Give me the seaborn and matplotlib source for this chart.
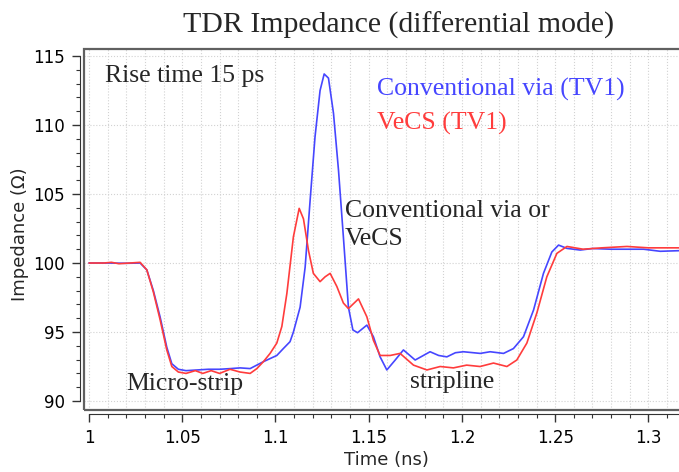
import numpy as np
import pandas as pd
import seaborn as sns
import matplotlib.pyplot as plt
from matplotlib.patches import Rectangle
from matplotlib.ticker import MultipleLocator

# values
conv_t = [1.000, 1.010, 1.020, 1.0274, 1.031, 1.0345, 1.0381, 1.0417, 1.0444, 1.0479,
          1.052, 1.058, 1.064, 1.070, 1.076, 1.081, 1.0864, 1.0935, 1.1007, 1.1042,
          1.1078, 1.1096, 1.1132, 1.1159, 1.1186, 1.1212, 1.1239, 1.1261, 1.1284,
          1.1311, 1.1338, 1.1364, 1.1391, 1.1415, 1.1440, 1.149, 1.1525, 1.1561, 1.1597,
          1.1642, 1.1686, 1.1749, 1.1829, 1.1875, 1.1919, 1.1965, 1.2008, 1.2098, 1.2151,
          1.2223, 1.2276, 1.233, 1.2384, 1.2437, 1.2482, 1.2518, 1.2563, 1.2634, 1.270,
          1.280, 1.290, 1.2974, 1.3063, 1.318]
conv_z = [100.0, 100.0, 99.98, 100.0, 99.5, 98.0, 96.1, 93.9, 92.7, 92.3,
          92.2, 92.25, 92.3, 92.3, 92.35, 92.4, 92.35, 92.85, 93.3, 93.8,
          94.3, 95.0, 96.8, 99.7, 104.6, 109.15, 112.5, 113.7, 113.4,
          110.85, 106.7, 101.9, 96.8, 95.15, 94.95, 95.5, 94.66, 93.2, 92.25,
          92.97, 93.7, 92.97, 93.57, 93.3, 93.2, 93.5, 93.57, 93.45, 93.57,
          93.45, 93.8, 94.66, 96.6, 99.25, 100.8, 101.3, 101.06, 100.94, 101.05,
          101.0, 101.0, 101.0, 100.85, 100.9]

vecs_t = [1.000, 1.008, 1.012, 1.016, 1.022, 1.0274, 1.031, 1.0345, 1.0381, 1.0417,
          1.0444, 1.0479, 1.052, 1.057, 1.061, 1.0655, 1.070, 1.0756, 1.081, 1.0864,
          1.090, 1.0935, 1.0971, 1.1007, 1.1034, 1.1061, 1.1096, 1.1127, 1.115, 1.1177,
          1.1203, 1.1239, 1.1266, 1.1293, 1.1329, 1.1364, 1.1391, 1.1445, 1.149, 1.1525,
          1.1561, 1.1615, 1.1668, 1.174, 1.1812, 1.1883, 1.1954, 1.2025, 1.2097, 1.2169,
          1.2241, 1.2294, 1.2348, 1.2402, 1.2455, 1.2509, 1.2563, 1.265, 1.275, 1.2885,
          1.300, 1.318]
vecs_z = [100.0, 100.0, 100.05, 99.95, 100.0, 100.05, 99.5, 97.9, 95.9, 93.7,
          92.5, 92.1, 92.0, 92.2, 92.0, 92.2, 92.0, 92.3, 92.1, 92.0,
          92.35, 92.85, 93.45, 94.2, 95.4, 97.8, 101.9, 103.96, 103.2, 100.9,
          99.25, 98.65, 99.0, 99.25, 98.3, 97.1, 96.7, 97.4, 96.1, 94.4,
          93.3, 93.3, 93.45, 92.6, 92.25, 92.5, 92.4, 92.6, 92.5, 92.75,
          92.5, 92.97, 94.2, 96.4, 99.0, 100.7, 101.2, 101.0, 101.1, 101.2,
          101.1, 101.1]

series_names = ["Conventional via (TV1)", "VeCS (TV1)"]
blue = "#4646ff"
red = "#ff3c3c"

df = pd.concat([
    pd.DataFrame({"t": conv_t, "z": conv_z, "via": series_names[0]}),
    pd.DataFrame({"t": vecs_t, "z": vecs_z, "via": series_names[1]}),
])

sns.set_style("white")
plt.rcParams["font.family"] = ["DejaVu Sans"]

fig = plt.figure(figsize=(6.79, 4.72), dpi=100)
ax = fig.add_axes([0.1237, 0.1314, 0.881, 0.7648])

sns.lineplot(data=df, x="t", y="z", hue="via", estimator=None, sort=False,
             palette={series_names[0]: blue, series_names[1]: red},
             linewidth=1.2, legend=False, ax=ax, zorder=3)

ax.set_xlim(0.9973, 1.3181)
ax.set_ylim(89.35, 115.51)
ax.xaxis.set_major_locator(MultipleLocator(0.05))
ax.xaxis.set_minor_locator(MultipleLocator(0.01))
ax.yaxis.set_major_locator(MultipleLocator(5))
ax.yaxis.set_minor_locator(MultipleLocator(1))
ax.set_xticks([1, 1.05, 1.1, 1.15, 1.2, 1.25, 1.3])
ax.set_xticklabels(["1", "1.05", "1.1", "1.15", "1.2", "1.25", "1.3"])

ax.grid(True, which="minor", axis="x", color="#d2d2d2", linestyle=":", linewidth=0.8)
ax.grid(True, which="major", axis="x", color="#d2d2d2", linestyle=":", linewidth=0.8)
ax.grid(True, which="major", axis="y", color="#d2d2d2", linestyle=":", linewidth=0.8)

ax.tick_params(which="major", length=6, width=1, color="#333333", labelsize=12, pad=5,
               left=True, bottom=True, labelcolor="black")
ax.tick_params(which="minor", length=3, width=0.8, color="#333333", left=True, bottom=True)

for side in ["top", "right"]:
    ax.spines[side].set_visible(False)
ax.spines["left"].set_position(("outward", 3))
ax.spines["bottom"].set_position(("outward", 3))
ax.spines["left"].set_bounds(90, 115)
ax.spines["bottom"].set_bounds(1.0, 1.3181)
ax.spines["left"].set_color("#333333")
ax.spines["bottom"].set_color("#333333")

ax.add_patch(Rectangle((0, 0), 1, 1, transform=ax.transAxes, fill=False,
                       edgecolor="#606060", linewidth=1.6, clip_on=False, zorder=5))

ax.set_xlabel("")
ax.set_ylabel("")

serif = ["Liberation Serif", "DejaVu Serif"]
ax.text(1.0086, 113.12, "Rise time 15 ps", family=serif, fontsize=18.5, va="baseline")
ax.text(1.1544, 112.17, series_names[0], family=serif, fontsize=18.5, color=blue, va="baseline")
ax.text(1.1544, 109.64, series_names[1], family=serif, fontsize=18.5, color=red, va="baseline")
ax.text(1.1373, 103.33, "Conventional via or", family=serif, fontsize=18.5, va="baseline")
ax.text(1.1373, 101.30, "VeCS", family=serif, fontsize=18.5, va="baseline")
ax.text(1.0202, 90.8, "Micro-strip", family=serif, fontsize=18.5, va="baseline", zorder=4)
ax.text(1.1722, 90.94, "stripline", family=serif, fontsize=18.5, va="baseline", zorder=4)

fig.text(399 / 679, 1 - 33 / 472, "TDR Impedance (differential mode)", family=serif,
         fontsize=21.5, ha="center", va="baseline")
fig.text(20 / 679, 1 - 234 / 472, "Impedance (\u03a9)", fontsize=13, rotation=90,
         ha="center", va="center")
fig.text(386.7 / 679, 1 - 460 / 472, "Time (ns)", fontsize=13, ha="center", va="center")

fig.savefig("out.png", dpi=100)
